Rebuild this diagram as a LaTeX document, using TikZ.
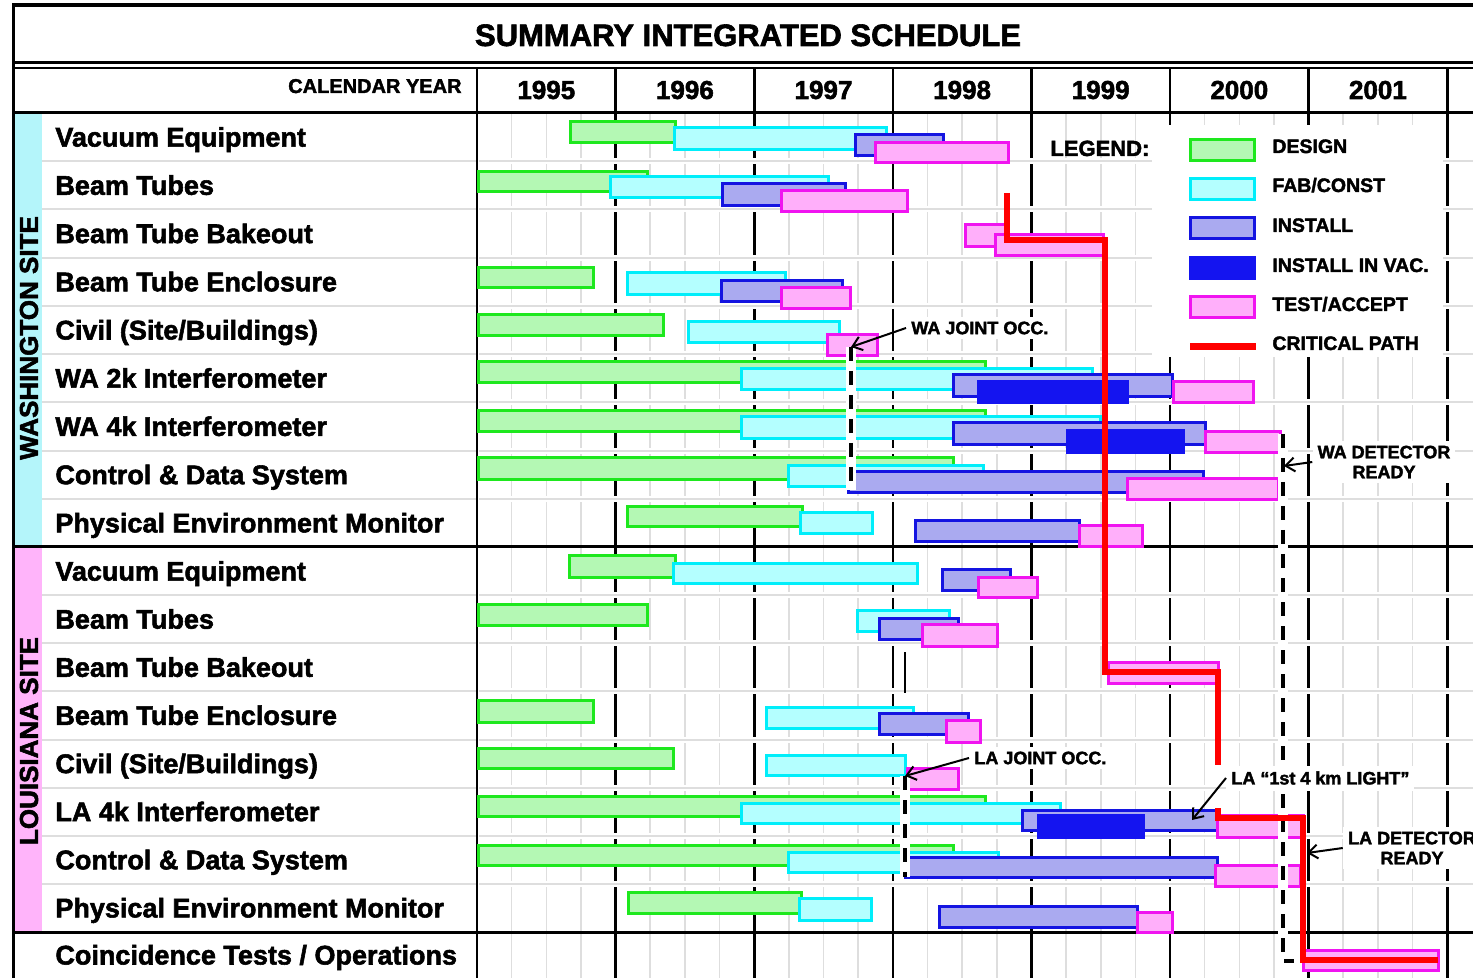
\documentclass[tikz,border=0pt]{standalone}
\usepackage{fontspec}
\setmainfont{Liberation Sans}[BoldFeatures={FakeBold=2}]
\usetikzlibrary{arrows.meta}
\definecolor{lgreen}{RGB}{180,248,180}
\definecolor{dgreen}{RGB}{30,232,30}
\definecolor{lcyan}{RGB}{180,255,255}
\definecolor{dcyan}{RGB}{0,238,250}
\definecolor{lblue}{RGB}{170,170,240}
\definecolor{dblue}{RGB}{20,20,225}
\definecolor{vblue}{RGB}{20,20,240}
\definecolor{lmag}{RGB}{255,175,250}
\definecolor{dmag}{RGB}{240,20,240}
\definecolor{stripc}{RGB}{180,245,250}
\definecolor{stripp}{RGB}{255,180,250}
\definecolor{gridg}{RGB}{222,222,222}
\definecolor{critred}{RGB}{255,0,0}
\tikzset{
  design/.style={draw=dgreen, fill=lgreen, line width=1.5pt},
  fab/.style={draw=dcyan, fill=lcyan, line width=1.5pt},
  inst/.style={draw=dblue, fill=lblue, line width=1.5pt},
  vac/.style={draw=vblue, fill=vblue, line width=1.5pt},
  test/.style={draw=dmag, fill=lmag, line width=1.5pt},
  crit/.style={draw=critred, line width=3pt, miter limit=10},
  qline/.style={draw=gridg, line width=0.8pt},
  yline/.style={draw=black, line width=1.3pt},
  rsepw/.style={draw=white, line width=3pt},
  rsepg/.style={draw=gridg, line width=1pt},
  major/.style={draw=black, line width=1.5pt},
  wband/.style={draw=white, line width=5pt},
  dline/.style={draw=black, line width=2pt, dash pattern=on 7pt off 5pt},
  arr/.style={draw=black, line width=1pt, -{Straight Barb[length=4.5pt,width=7pt,line width=1pt]}},
  lbl/.style={anchor=base west, inner sep=0pt, font=\fontsize{13.5pt}{16pt}\selectfont\bfseries},
  yr/.style={anchor=base, inner sep=0pt, font=\fontsize{13pt}{15pt}\selectfont\bfseries},
  site/.style={inner sep=0pt, rotate=90, font=\fontsize{13pt}{15pt}\selectfont\bfseries},
  legtxt/.style={anchor=base west, inner sep=0pt, font=\fontsize{9.75pt}{11pt}\selectfont\bfseries},
  note/.style={fill=white, inner sep=2.5pt, font=\fontsize{9pt}{10pt}\selectfont\bfseries, align=center},
}
\begin{document}
\begin{tikzpicture}[x=0.5pt,y=-0.5pt]
\useasboundingbox (0,0) rectangle (1473,978);
\fill[white] (0,0) rectangle (1473,978);

% site strips
\fill[stripc] (14,113) rectangle (42,547);
\fill[stripp] (14,547) rectangle (42,932);

% quarter grid lines
\foreach \i in {0,...,6}{
  \foreach \k in {1,2,3}{
    \draw[qline] ({477+\i*138.6+\k*34.65},113) -- ({477+\i*138.6+\k*34.65},978);
  }
}
% year lines
\foreach \i in {0,...,7}{
  \draw[yline] ({477+\i*138.6},68) -- ({477+\i*138.6},978);
}
% row separators
\foreach \k in {1,...,8}{
  \draw[rsepg] (42,{113+\k*48.22}) -- (476,{113+\k*48.22});
  \draw[rsepw] (479,{113+\k*48.22}) -- (1473,{113+\k*48.22});
  \draw[rsepg] (479,{113+\k*48.22}) -- (1473,{113+\k*48.22});
}
\foreach \k in {1,...,7}{
  \draw[rsepg] (42,{547+\k*48.125}) -- (476,{547+\k*48.125});
  \draw[rsepw] (479,{547+\k*48.125}) -- (1473,{547+\k*48.125});
  \draw[rsepg] (479,{547+\k*48.125}) -- (1473,{547+\k*48.125});
}

% frame and major lines
\draw[line width=2pt] (12,5) -- (1473,5);
\draw[line width=1.5pt] (13,4) -- (13,978);
\draw[major] (12,63) -- (1473,63);
\draw[line width=1pt] (12,68.5) -- (1473,68.5);
\draw[major] (12,113) -- (1473,113);
\draw[major] (12,547) -- (1473,547);
\draw[major] (12,932) -- (1473,932);

% legend area
\fill[white] (1152,125) rectangle (1443,357);

% ===== WASHINGTON bars =====
% Vacuum Equipment
\draw[design] (570,122) rectangle (675,143);
\draw[fab] (674,128) rectangle (886,150);
\draw[inst] (855,135) rectangle (943,156);
\draw[test] (875,143) rectangle (1008,163);
% Beam Tubes
\draw[design] (478,172) rectangle (647,192);
\draw[fab] (610,177) rectangle (828,198);
\draw[inst] (722,184) rectangle (845,206);
\draw[test] (781,191) rectangle (907,212);
% Beam Tube Bakeout
\draw[test] (965,225) rectangle (1005,247);
\draw[test] (995,235) rectangle (1103,256);
% Beam Tube Enclosure
\draw[design] (478,268) rectangle (593,288);
\draw[fab] (627,273) rectangle (785,295);
\draw[inst] (721,281) rectangle (842,302);
\draw[test] (781,288) rectangle (850,309);
% Civil
\draw[design] (478,315) rectangle (663,336);
\draw[fab] (688,322) rectangle (839,343);
\draw[test] (827,335) rectangle (877,356);
% WA 2k
\draw[design] (478,362) rectangle (985,383);
\draw[fab] (741,369) rectangle (1092,390);
\draw[inst] (953,375) rectangle (1172,397);
\draw[vac] (978,382) rectangle (1127,403);
\draw[test] (1173,382) rectangle (1253,403);
% WA 4k
\draw[design] (478,411) rectangle (985,432);
\draw[fab] (741,417) rectangle (1100,439);
\draw[inst] (953,423) rectangle (1205,445);
\draw[vac] (1067,431) rectangle (1183,453);
\draw[test] (1205,432) rectangle (1280,453);
% Control & Data System
\draw[design] (478,458) rectangle (953,480);
\draw[fab] (788,466) rectangle (983,487);
\draw[inst] (848,472) rectangle (1203,493);
\draw[test] (1127,479) rectangle (1278,500);
% PEM
\draw[design] (627,507) rectangle (802,527);
\draw[fab] (800,513) rectangle (872,534);
\draw[inst] (915,521) rectangle (1079,542);
\draw[test] (1079,526) rectangle (1142,547);

% ===== LOUISIANA bars =====
\draw[design] (569,556) rectangle (675,577);
\draw[fab] (673,563) rectangle (917,583);
\draw[inst] (942,569) rectangle (1010,590);
\draw[test] (978,577) rectangle (1037,597);
% Beam Tubes
\draw[design] (478,604) rectangle (647,625);
\draw[fab] (857,610) rectangle (949,631);
\draw[inst] (879,618) rectangle (958,639);
\draw[test] (922,624) rectangle (997,646);
% Bakeout
\draw[test] (1108,662) rectangle (1218,683);
% Enclosure
\draw[design] (478,700) rectangle (593,722);
\draw[fab] (766,707) rectangle (913,728);
\draw[inst] (879,713) rectangle (968,734);
\draw[test] (946,720) rectangle (980,742);
% Civil
\draw[design] (478,748) rectangle (673,768);
\draw[fab] (766,755) rectangle (905,775);
\draw[test] (907,768) rectangle (958,789);
% LA 4k
\draw[design] (478,796) rectangle (985,816);
\draw[fab] (741,803) rectangle (1060,823);
\draw[inst] (1022,810) rectangle (1217,830);
\draw[vac] (1038,815) rectangle (1143,837);
\draw[test] (1217,815) rectangle (1303,837);
% CDS
\draw[design] (478,845) rectangle (953,865);
\draw[fab] (788,852) rectangle (998,872);
\draw[inst] (905,857) rectangle (1217,877);
\draw[test] (1215,865) rectangle (1300,886);
% PEM
\draw[design] (628,892) rectangle (801,913);
\draw[fab] (799,898) rectangle (871,920);
\draw[inst] (939,906) rectangle (1137,927);
\draw[test] (1137,912) rectangle (1172,932);
% Coincidence
\draw[test] (1303,950) rectangle (1438,970);

% ===== milestone dashed lines =====
\coordinate (wajp) at (851,347);
\coordinate (wajb) at (851,490);
\draw[wband] (wajp) -- (wajb);
\draw[dline] (wajp) -- (wajb);
\coordinate (wadp) at (1283,434);
\coordinate (wadb) at (1283,961);
\coordinate (wade) at (1294,961);
\draw[wband] (wadp) -- (wadb);
\draw[dline] (wadp) -- (wadb) -- (wade);
\coordinate (lajp) at (905,776);
\coordinate (lajb) at (905,877);
\draw[wband] (lajp) -- (lajb);
\draw[dline] (lajp) -- (lajb);
\draw[line width=1pt] (905,652) -- (905,693);

% ===== critical path =====
\draw[crit] (1007,193) -- (1007,240) -- (1105,240) -- (1105,672) -- (1218,672) -- (1218,765);
\draw[crit] (1218,808) -- (1218,818) -- (1303,818) -- (1303,960) -- (1438,960);

% ===== annotations =====
\node[note, anchor=west] (waj) at (906,328) {WA JOINT OCC.};
\draw[arr] (waj.west) -- (wajp);
\node[note, anchor=west] (laj) at (969,758) {LA JOINT OCC.};
\draw[arr] (laj.west) -- (lajp);
\node[note] (wad) at (1384,462) {WA DETECTOR\\READY};
\draw[arr] (wad.west) -- (1284,466);
\node[note] (lad) at (1412,848) {LA DETECTOR\\READY};
\draw[arr] (lad.west) -- (1307,853);
\node[note, anchor=west] (lal) at (1226,778) {LA “1st 4 km LIGHT”};
\coordinate (lalp) at (1192,820);
\draw[arr] (lal.west) -- (lalp);

% ===== legend =====
\node[anchor=base west, inner sep=0pt, font=\fontsize{11pt}{13pt}\selectfont\bfseries] (legend) at (1050,156) {LEGEND:};
\draw[design] (1190,140) rectangle (1254,161);
\draw[fab] (1190,179) rectangle (1254,200);
\draw[inst] (1190,218) rectangle (1254,239);
\draw[vac] (1190,258) rectangle (1254,279);
\draw[test] (1190,297) rectangle (1254,318);
\draw[draw=critred, line width=3.5pt] (1190,347) -- (1256,347);
\node[legtxt] (lg1) at (1272,153) {DESIGN};
\node[legtxt] (lg2) at (1272,192) {FAB/CONST};
\node[legtxt] (lg3) at (1272,232) {INSTALL};
\node[legtxt] (lg4) at (1272,272) {INSTALL IN VAC.};
\node[legtxt] (lg5) at (1272,311) {TEST/ACCEPT};
\node[legtxt] (lg6) at (1272,350) {CRITICAL PATH};

% ===== header =====
\node[anchor=base, inner sep=0pt, font=\fontsize{15.5pt}{18pt}\selectfont\bfseries] (title) at (748,46) {SUMMARY INTEGRATED SCHEDULE};
\node[anchor=base east, inner sep=0pt, font=\fontsize{10pt}{12pt}\selectfont\bfseries] (cal) at (462,93) {CALENDAR YEAR};
\node[yr] (y95) at (546.3,99) {1995};
\node[yr] (y96) at (684.9,99) {1996};
\node[yr] (y97) at (823.5,99) {1997};
\node[yr] (y98) at (962.1,99) {1998};
\node[yr] (y99) at (1100.7,99) {1999};
\node[yr] (y00) at (1239.3,99) {2000};
\node[yr] (y01) at (1377.9,99) {2001};

% ===== row labels =====
\node[site] (wasite) at (29,338) {WASHINGTON SITE};
\node[site] (lasite) at (29,741) {LOUISIANA SITE};
\node[lbl] (wa1) at (55,146.6) {Vacuum Equipment};
\node[lbl] (wa2) at (55,194.8) {Beam Tubes};
\node[lbl] (wa3) at (55,243.1) {Beam Tube Bakeout};
\node[lbl] (wa4) at (55,291.3) {Beam Tube Enclosure};
\node[lbl] (wa5) at (55,339.5) {Civil (Site/Buildings)};
\node[lbl] (wa6) at (55,387.7) {WA 2k Interferometer};
\node[lbl] (wa7) at (55,435.9) {WA 4k Interferometer};
\node[lbl] (wa8) at (55,484.2) {Control \& Data System};
\node[lbl] (wa9) at (55,532.4) {Physical Environment Monitor};
\node[lbl] (la1) at (55,580.6) {Vacuum Equipment};
\node[lbl] (la2) at (55,628.7) {Beam Tubes};
\node[lbl] (la3) at (55,676.8) {Beam Tube Bakeout};
\node[lbl] (la4) at (55,724.9) {Beam Tube Enclosure};
\node[lbl] (la5) at (55,773.1) {Civil (Site/Buildings)};
\node[lbl] (la6) at (55,821.2) {LA 4k Interferometer};
\node[lbl] (la7) at (55,869.3) {Control \& Data System};
\node[lbl] (la8) at (55,917.4) {Physical Environment Monitor};
\node[lbl] (coin) at (55,964.5) {Coincidence Tests / Operations};
\end{tikzpicture}
\end{document}
